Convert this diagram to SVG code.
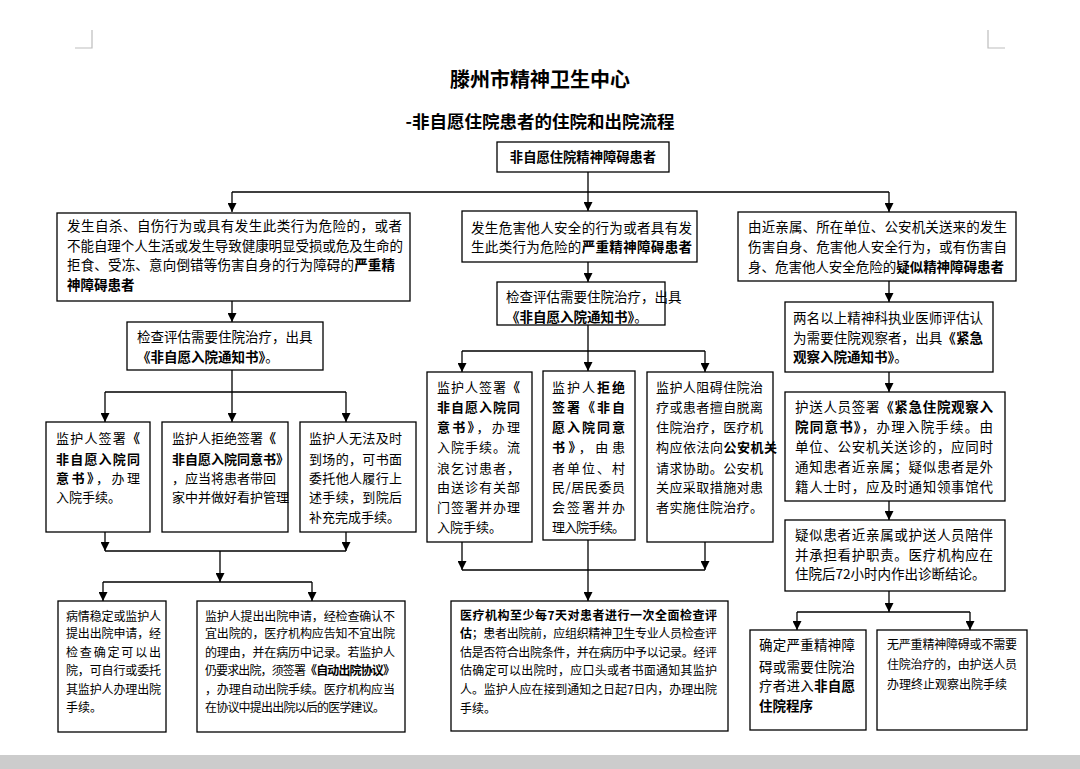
<svg xmlns="http://www.w3.org/2000/svg" width="1080" height="769" viewBox="0 0 1080 769">
<style>
.n{fill:#fff;stroke:#000;stroke-width:1.3}
text{font-family:"Noto Sans CJK SC","Noto Sans",sans-serif;fill:#000}
.t{font-size:13.5px}
.s{font-size:13px}
.m{font-size:12px}
.b{font-weight:bold}
.c{stroke:#000;stroke-width:1.3;fill:none}
.a{stroke:#000;stroke-width:1.3;fill:none;marker-end:url(#ah)}
.g{stroke:#bdbdbd;stroke-width:1.2;fill:none}
</style>
<defs>
<marker id="ah" markerUnits="userSpaceOnUse" markerWidth="9" markerHeight="9" refX="9" refY="4.5" orient="auto">
<path d="M0,0 L9,4.5 L0,9 z" fill="#000"/>
</marker>
</defs>
<rect width="1080" height="769" fill="#fff"/>
<rect x="0" y="755" width="1080" height="14" fill="#cccccc"/>
<g id="corners">
<path class="g" d="M75,48 H92 V30"/>
<path class="g" d="M1005,48 H988 V30"/>
</g>
<g id="title">
<text x="540" y="87" text-anchor="middle" class="b" style="font-size:20px">滕州市精神卫生中心</text>
<text x="540" y="128" text-anchor="middle" class="b" style="font-size:17.5px">-非自愿住院患者的住院和出院流程</text>
</g>
<g id="connectors">
<path class="c" d="M588,172 V192 M232,192 H889"/>
<path class="a" d="M232,192 V212"/>
<path class="a" d="M588,192 V211"/>
<path class="a" d="M889,192 V212"/>
<path class="a" d="M232,301 V322"/>
<path class="c" d="M232,370 V392 M105,392 H346"/>
<path class="a" d="M105,392 V422"/>
<path class="a" d="M232,392 V422"/>
<path class="a" d="M346,392 V422"/>
<path class="a" d="M105,532 V551"/>
<path class="a" d="M346,532 V551"/>
<path class="c" d="M105,551 H346"/>
<path class="a" d="M220,551 V582"/>
<path class="c" d="M103,582 H312"/>
<path class="a" d="M103,582 V601"/>
<path class="a" d="M312,582 V601"/>
<path class="a" d="M588,262 V282"/>
<path class="c" d="M588,325 V351 M462,351 H705"/>
<path class="a" d="M462,351 V372"/>
<path class="a" d="M588,351 V371"/>
<path class="a" d="M705,351 V372"/>
<path class="a" d="M462,542 V570"/>
<path class="a" d="M705,542 V570"/>
<path class="c" d="M462,570 H705"/>
<path class="a" d="M588,540 V601"/>
<path class="a" d="M889,281 V302"/>
<path class="a" d="M889,372 V392"/>
<path class="a" d="M889,501 V520"/>
<path class="a" d="M889,591 V612"/>
<path class="c" d="M797,612 H970"/>
<path class="a" d="M797,612 V630"/>
<path class="a" d="M970,612 V630"/>
</g>
<g id="top">
<rect class="n" x="497" y="142" width="172" height="30"/>
<text x="583" y="162" text-anchor="middle" class="b" style="font-size:13.3px">非自愿住院精神障碍患者</text>
</g>
<g id="left1">
<rect class="n" x="57" y="213" width="353" height="88"/>
<text class="t" x="67" y="231" textLength="335" lengthAdjust="spacing">发生自杀、自伤行为或具有发生此类行为危险的，或者</text>
<text class="t" x="67" y="251" textLength="336" lengthAdjust="spacing">不能自理个人生活或发生导致健康明显受损或危及生命的</text>
<text class="t" x="67" y="270" textLength="328" lengthAdjust="spacing">拒食、受冻、意向倒错等伤害自身的行为障碍的<tspan class="b">严重精</tspan></text>
<text class="t b" x="67" y="290">神障碍患者</text>
</g>
<g id="left2">
<rect class="n" x="127" y="322" width="196" height="48"/>
<text class="t" x="137" y="342">检查评估需要住院治疗，出具</text>
<text class="t" x="137" y="362"><tspan class="b">《非自愿入院通知书》</tspan>。</text>
</g>
<g id="leftA">
<rect class="n" x="46" y="422" width="104" height="110"/>
<text class="s" x="56" y="443" textLength="84" lengthAdjust="spacing">监护人签署<tspan class="b">《</tspan></text>
<text class="s b" x="56" y="464" textLength="84" lengthAdjust="spacing">非自愿入院同</text>
<text class="s" x="56" y="483" textLength="84" lengthAdjust="spacing"><tspan class="b">意书》</tspan>，办理</text>
<text class="s" x="56" y="502">入院手续。</text>
</g>
<g id="leftB">
<rect class="n" x="162" y="422" width="126" height="110"/>
<text class="s" x="172" y="443">监护人拒绝签署<tspan class="b">《</tspan></text>
<text class="s b" x="172" y="464">非自愿入院同意书》</text>
<text class="s" x="172" y="483">，应当将患者带回</text>
<text class="s" x="172" y="502">家中并做好看护管理</text>
</g>
<g id="leftC">
<rect class="n" x="300" y="422" width="116" height="110"/>
<text class="s" x="309" y="443" textLength="93" lengthAdjust="spacing">监护人无法及时</text>
<text class="s" x="309" y="464" textLength="93" lengthAdjust="spacing">到场的，可书面</text>
<text class="s" x="309" y="483" textLength="93" lengthAdjust="spacing">委托他人履行上</text>
<text class="s" x="309" y="502" textLength="93" lengthAdjust="spacing">述手续，到院后</text>
<text class="s" x="309" y="522">补充完成手续。</text>
</g>
<g id="leftD">
<rect class="n" x="58" y="601" width="108" height="131"/>
<text class="m" x="66" y="621" textLength="95" lengthAdjust="spacing">病情稳定或监护人</text>
<text class="m" x="66" y="638" textLength="95" lengthAdjust="spacing">提出出院申请，经</text>
<text class="m" x="66" y="657" textLength="95" lengthAdjust="spacing">检查确定可以出</text>
<text class="m" x="66" y="675" textLength="95" lengthAdjust="spacing">院，可自行或委托</text>
<text class="m" x="66" y="694" textLength="95" lengthAdjust="spacing">其监护人办理出院</text>
<text class="m" x="66" y="712">手续。</text>
</g>
<g id="leftE">
<rect class="n" x="197" y="601" width="208" height="131"/>
<text class="m" x="205" y="621" textLength="190" lengthAdjust="spacing">监护人提出出院申请，经检查确认不</text>
<text class="m" x="205" y="638" textLength="190" lengthAdjust="spacing">宜出院的，医疗机构应告知不宜出院</text>
<text class="m" x="205" y="657" textLength="190" lengthAdjust="spacing">的理由，并在病历中记录。若监护人</text>
<text class="m" x="205" y="675" textLength="190" lengthAdjust="spacing">仍要求出院，须签署<tspan class="b">《自动出院协议》</tspan></text>
<text class="m" x="205" y="694" textLength="190" lengthAdjust="spacing">，办理自动出院手续。医疗机构应当</text>
<text class="m" x="205" y="712" textLength="180" lengthAdjust="spacing">在协议中提出出院以后的医学建议。</text>
</g>
<g id="mid1">
<rect class="n" x="462" y="211" width="235" height="51"/>
<text class="t" x="471" y="233" textLength="221" lengthAdjust="spacing">发生危害他人安全的行为或者具有发</text>
<text class="t" x="471" y="252" textLength="221" lengthAdjust="spacing">生此类行为危险的<tspan class="b">严重精神障碍患者</tspan></text>
</g>
<g id="mid2">
<rect class="n" x="497" y="282" width="168" height="43"/>
<text class="t" x="506" y="302">检查评估需要住院治疗，出具</text>
<text class="t" x="506" y="322"><tspan class="b">《非自愿入院通知书》</tspan>。</text>
</g>
<g id="midF">
<rect class="n" x="427" y="372" width="105" height="170"/>
<text class="s" x="437" y="392" textLength="83" lengthAdjust="spacing">监护人签署<tspan class="b">《</tspan></text>
<text class="s b" x="437" y="412" textLength="83" lengthAdjust="spacing">非自愿入院同</text>
<text class="s" x="437" y="432" textLength="83" lengthAdjust="spacing"><tspan class="b">意书》</tspan>，办理</text>
<text class="s" x="437" y="452" textLength="83" lengthAdjust="spacing">入院手续。流</text>
<text class="s" x="437" y="473" textLength="83" lengthAdjust="spacing">浪乞讨患者，</text>
<text class="s" x="437" y="492" textLength="83" lengthAdjust="spacing">由送诊有关部</text>
<text class="s" x="437" y="512" textLength="83" lengthAdjust="spacing">门签署并办理</text>
<text class="s" x="437" y="532">入院手续。</text>
</g>
<g id="midG">
<rect class="n" x="543" y="371" width="92" height="169"/>
<text class="s" x="552" y="392" textLength="73" lengthAdjust="spacing">监护人<tspan class="b">拒绝</tspan></text>
<text class="s b" x="552" y="412" textLength="73" lengthAdjust="spacing">签署《非自</text>
<text class="s b" x="552" y="432" textLength="73" lengthAdjust="spacing">愿入院同意</text>
<text class="s" x="552" y="452" textLength="73" lengthAdjust="spacing"><tspan class="b">书》</tspan>，由患</text>
<text class="s" x="552" y="473" textLength="73" lengthAdjust="spacing">者单位、村</text>
<text class="s" x="552" y="492" textLength="73" lengthAdjust="spacing">民/居民委员</text>
<text class="s" x="552" y="512" textLength="73" lengthAdjust="spacing">会签署并办</text>
<text class="s" x="552" y="532" textLength="73" lengthAdjust="spacing">理入院手续。</text>
</g>
<g id="midH">
<rect class="n" x="647" y="372" width="126" height="170"/>
<text class="s" x="656" y="392" textLength="107" lengthAdjust="spacing">监护人阻碍住院治</text>
<text class="s" x="656" y="412" textLength="107" lengthAdjust="spacing">疗或患者擅自脱离</text>
<text class="s" x="656" y="432" textLength="107" lengthAdjust="spacing">住院治疗，医疗机</text>
<text class="s" x="656" y="452" textLength="121" lengthAdjust="spacing">构应依法向<tspan class="b">公安机关</tspan></text>
<text class="s" x="656" y="473" textLength="107" lengthAdjust="spacing">请求协助。公安机</text>
<text class="s" x="656" y="492" textLength="107" lengthAdjust="spacing">关应采取措施对患</text>
<text class="s" x="656" y="512" textLength="107" lengthAdjust="spacing">者实施住院治疗。</text>
</g>
<g id="midI">
<rect class="n" x="451" y="601" width="277" height="130"/>
<text class="m" x="460" y="620" textLength="257" lengthAdjust="spacing"><tspan class="b">医疗机构至少每7天对患者进行一次全面检查评</tspan></text>
<text class="m" x="460" y="638" textLength="257" lengthAdjust="spacing"><tspan class="b">估</tspan>；患者出院前，应组织精神卫生专业人员检查评</text>
<text class="m" x="460" y="657" textLength="257" lengthAdjust="spacing">估是否符合出院条件，并在病历中予以记录。经评</text>
<text class="m" x="460" y="675" textLength="257" lengthAdjust="spacing">估确定可以出院时，应口头或者书面通知其监护</text>
<text class="m" x="460" y="694" textLength="257" lengthAdjust="spacing">人。监护人应在接到通知之日起7日内，办理出院</text>
<text class="m" x="460" y="713">手续。</text>
</g>
<g id="right1">
<rect class="n" x="738" y="212" width="278" height="69"/>
<text class="t" x="748" y="232" textLength="259" lengthAdjust="spacing">由近亲属、所在单位、公安机关送来的发生</text>
<text class="t" x="748" y="252" textLength="259" lengthAdjust="spacing">伤害自身、危害他人安全行为，或有伤害自</text>
<text class="t" x="748" y="272" textLength="256" lengthAdjust="spacing">身、危害他人安全危险的<tspan class="b">疑似精神障碍患者</tspan></text>
</g>
<g id="right2">
<rect class="n" x="785" y="302" width="208" height="70"/>
<text class="t" x="793" y="323" textLength="190" lengthAdjust="spacing">两名以上精神科执业医师评估认</text>
<text class="t" x="793" y="343" textLength="190" lengthAdjust="spacing">为需要住院观察者，出具<tspan class="b">《紧急</tspan></text>
<text class="t" x="793" y="362"><tspan class="b">观察入院通知书》</tspan>。</text>
</g>
<g id="right3">
<rect class="n" x="785" y="392" width="220" height="109"/>
<text class="t" x="795" y="412" textLength="198" lengthAdjust="spacing">护送人员签署<tspan class="b">《紧急住院观察入</tspan></text>
<text class="t" x="795" y="432" textLength="198" lengthAdjust="spacing"><tspan class="b">院同意书》</tspan>，办理入院手续。由</text>
<text class="t" x="795" y="452" textLength="198" lengthAdjust="spacing">单位、公安机关送诊的，应同时</text>
<text class="t" x="795" y="472" textLength="198" lengthAdjust="spacing">通知患者近亲属；疑似患者是外</text>
<text class="t" x="795" y="492" textLength="198" lengthAdjust="spacing">籍人士时，应及时通知领事馆代</text>
</g>
<g id="right4">
<rect class="n" x="785" y="520" width="220" height="71"/>
<text class="t" x="795" y="540" textLength="198" lengthAdjust="spacing">疑似患者近亲属或护送人员陪伴</text>
<text class="t" x="795" y="560" textLength="198" lengthAdjust="spacing">并承担看护职责。医疗机构应在</text>
<text class="t" x="795" y="579">住院后72小时内作出诊断结论。</text>
</g>
<g id="rightN">
<rect class="n" x="750" y="630" width="116" height="100"/>
<text class="t" x="759" y="650" textLength="96" lengthAdjust="spacing">确定严重精神障</text>
<text class="t" x="759" y="672" textLength="96" lengthAdjust="spacing">碍或需要住院治</text>
<text class="t" x="759" y="691" textLength="96" lengthAdjust="spacing">疗者进入<tspan class="b">非自愿</tspan></text>
<text class="t b" x="759" y="711">住院程序</text>
</g>
<g id="rightO">
<rect class="n" x="877" y="630" width="150" height="100"/>
<text class="m" x="887" y="649" textLength="130" lengthAdjust="spacing">无严重精神障碍或不需要</text>
<text class="m" x="887" y="669" textLength="130" lengthAdjust="spacing">住院治疗的，由护送人员</text>
<text class="m" x="887" y="689">办理终止观察出院手续</text>
</g>
</svg>
